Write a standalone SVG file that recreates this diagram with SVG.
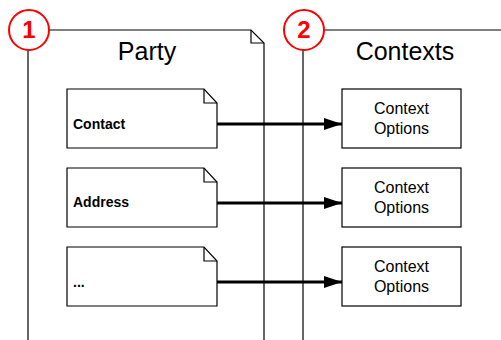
<svg xmlns="http://www.w3.org/2000/svg" width="501" height="340" viewBox="0 0 501 340">
<defs>
<style>
.frame{fill:none;stroke:#000;stroke-width:1.2}
.doc{fill:#fff;stroke:#000;stroke-width:1.2}
.badge{fill:#fff;stroke:#f00;stroke-width:2}
.badgeT{font-family:"Liberation Sans",Arial,sans-serif;font-weight:bold;font-size:24px;fill:#f00;text-anchor:middle}
.title{font-family:"Liberation Sans",Arial,sans-serif;font-size:25px;fill:#000;text-anchor:middle}
.lbl{font-family:"Liberation Sans",Arial,sans-serif;font-weight:bold;font-size:14px;fill:#000}
.ctx{font-family:"Liberation Sans",Arial,sans-serif;font-size:16px;fill:#000;text-anchor:middle}
.conn{stroke:#000;stroke-width:3;fill:none}
</style>
<marker id="ah" markerWidth="6" markerHeight="4" refX="6" refY="2" orient="auto" markerUnits="strokeWidth">
<path d="M0,0 L6,2 L0,4 Z" fill="#000"/>
</marker>
</defs>
<rect width="501" height="340" fill="#fff"/>
<g id="party">
<path class="frame" d="M28,340 V30 H251 L264,43 V340"/>
<path class="frame" d="M251,30 V43 H264"/>
<text class="title" x="147" y="60">Party</text>
<circle class="badge" cx="29" cy="30" r="20"/>
<text class="badgeT" x="29" y="38">1</text>
</g>
<g id="contexts">
<path class="frame" d="M303,340 V30 H501"/>
<text class="title" x="405" y="60">Contexts</text>
<circle class="badge" cx="304" cy="30" r="20"/>
<text class="badgeT" x="304" y="38">2</text>
</g>
<g id="contact">
<path class="doc" d="M67,89 H204 L217,103 V148 H67 Z"/>
<path class="frame" d="M204,89 V103 H217"/>
<text class="lbl" x="73" y="129">Contact</text>
</g>
<g id="address">
<path class="doc" d="M67,168 H204 L217,182 V227 H67 Z"/>
<path class="frame" d="M204,168 V182 H217"/>
<text class="lbl" x="73" y="207">Address</text>
</g>
<g id="more">
<path class="doc" d="M67,247 H204 L217,261 V306 H67 Z"/>
<path class="frame" d="M204,247 V261 H217"/>
<text class="lbl" x="73" y="287">...</text>
</g>
<g id="ctx1">
<rect class="doc" x="342" y="89" width="119" height="59"/>
<text class="ctx" x="401.5" y="114">Context</text>
<text class="ctx" x="401.5" y="134">Options</text>
</g>
<g id="ctx2">
<rect class="doc" x="342" y="168" width="119" height="59"/>
<text class="ctx" x="401.5" y="193">Context</text>
<text class="ctx" x="401.5" y="213">Options</text>
</g>
<g id="ctx3">
<rect class="doc" x="342" y="247" width="119" height="59"/>
<text class="ctx" x="401.5" y="272">Context</text>
<text class="ctx" x="401.5" y="292">Options</text>
</g>
<g id="connectors">
<line class="conn" x1="217" y1="124" x2="342" y2="124" marker-end="url(#ah)"/>
<line class="conn" x1="217" y1="203" x2="342" y2="203" marker-end="url(#ah)"/>
<line class="conn" x1="217" y1="282" x2="342" y2="282" marker-end="url(#ah)"/>
</g>
</svg>
